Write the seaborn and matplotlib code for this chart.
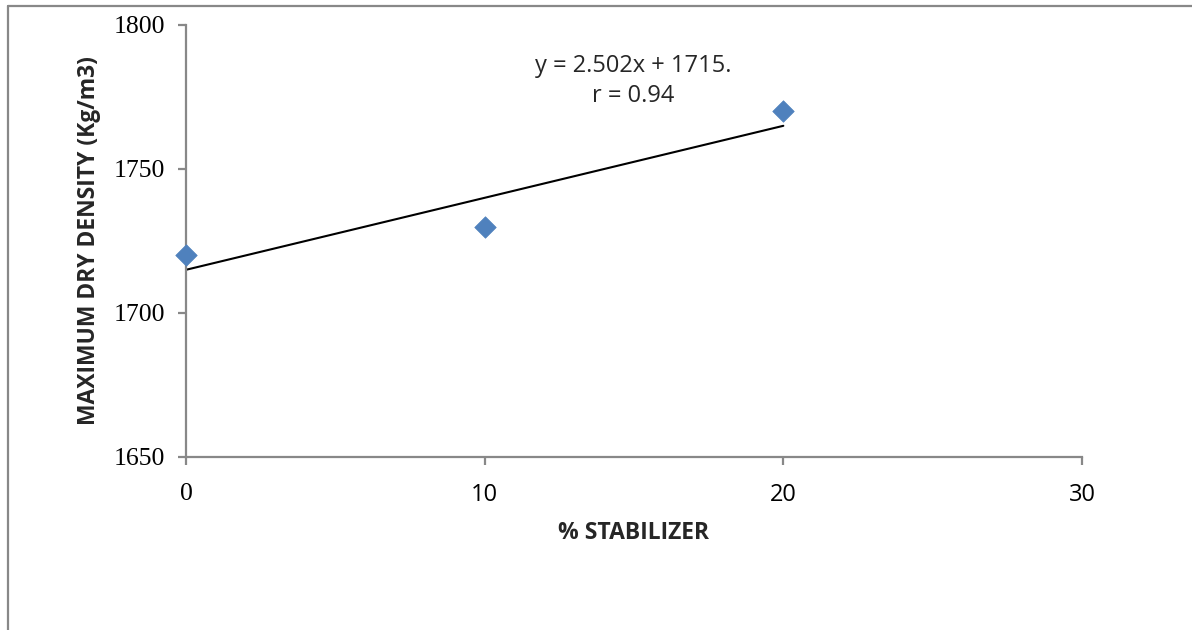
import matplotlib
matplotlib.use("Agg")
import matplotlib.pyplot as plt
from matplotlib.lines import Line2D
import seaborn as sns
import pandas as pd

stabilizer = [0, 10, 20]
density = [1720, 1730, 1770]
x_ticks = [0, 10, 20, 30]
y_ticks = [1650, 1700, 1750, 1800]
equation_text = "y = 2.502x + 1715.\nr = 0.94"

df = pd.DataFrame({"stab": stabilizer, "dens": density})

sns.set_theme(style="white")
plt.rcParams["font.family"] = ["Open Sans", "DejaVu Sans"]

fig = plt.figure(figsize=(11.92, 6.30), dpi=100)
ax = fig.add_axes([186/1192, 1-457/630, (1082-186)/1192, (457-25)/630])

sns.regplot(data=df, x="stab", y="dens", ax=ax, scatter=False, ci=None,
            line_kws=dict(color="black", lw=1.5, zorder=2))
sns.scatterplot(data=df, x="stab", y="dens", ax=ax, marker="D", s=120,
                color="#4F81BD", edgecolor="#4F81BD", linewidth=0.5, zorder=3,
                clip_on=False)

ax.set_xlim(0, 30)
ax.set_ylim(1650, 1800)
ax.set_xticks(x_ticks)
ax.set_yticks(y_ticks)
ax.set_xticklabels([str(t) for t in x_ticks], fontsize=17)
ax.set_yticklabels([str(t) for t in y_ticks], fontsize=18.5, family="Liberation Serif")
ax.get_xticklabels()[0].set_family("Liberation Serif")
ax.get_xticklabels()[0].set_fontsize(18.5)

for side in ["top", "right"]:
    ax.spines[side].set_visible(False)
for side in ["left", "bottom"]:
    ax.spines[side].set_color("#888888")
    ax.spines[side].set_linewidth(1.6)
ax.tick_params(axis="both", direction="out", length=6, width=1.6, color="#888888",
               labelcolor="black")
ax.tick_params(axis="x", pad=13, bottom=True)
ax.tick_params(axis="y", pad=9, left=True)

ax.set_xlabel("% STABILIZER", fontsize=16.5, fontweight="bold", labelpad=10)
ax.set_ylabel("MAXIMUM DRY DENSITY (Kg/m3)", fontsize=16.5, fontweight="bold", labelpad=9)

ax.text(0.4994, 0.870, equation_text, transform=ax.transAxes, ha="center", va="center",
        fontsize=17, linespacing=1.3)

fig.add_artist(Line2D([8/1192, 8/1192], [0, 1-5.5/630], transform=fig.transFigure,
                      color="#888888", lw=1.6))
fig.add_artist(Line2D([8/1192, 1], [1-5.5/630, 1-5.5/630], transform=fig.transFigure,
                      color="#888888", lw=1.6))

fig.savefig("out.png", dpi=100, facecolor="white")
